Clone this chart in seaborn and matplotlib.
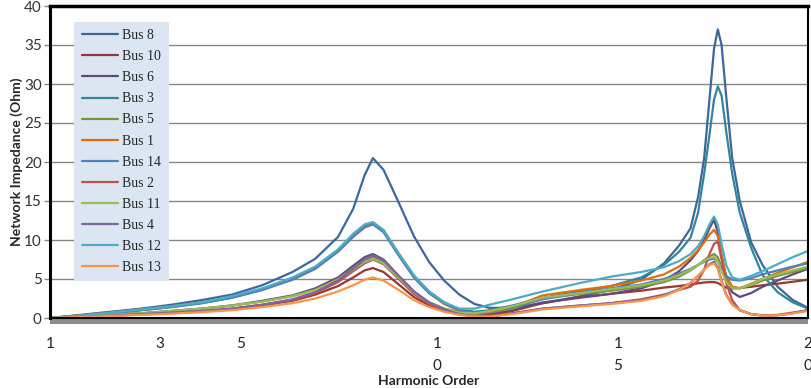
import seaborn as sns
import pandas as pd
import matplotlib.pyplot as plt
from matplotlib.patches import Rectangle

# sample positions along the (category) harmonic axis, 0 = order 1, 100 = order 20
pos = [0, 4, 8, 12, 16, 20, 24, 28, 32, 35, 38, 40, 41.5, 42.6, 44, 46, 48, 50, 52, 54,
       56, 58, 61, 65, 70, 74, 78, 81, 83, 84.5, 85.5, 86.3, 87, 87.6, 88.1, 88.6, 89.2, 90, 91, 92.5,
       94, 96, 98, 100]

bus8 = [0, 0.4, 0.8, 1.2, 1.7, 2.3, 3.0, 4.2, 5.9, 7.6, 10.4, 14.0, 18.3, 20.5, 19.0, 14.8, 10.5, 7.2, 4.8, 3.0,
        1.8, 1.3, 1.3, 1.9, 2.8, 3.6, 4.9, 7.0, 9.3, 11.5, 15.5, 20.5, 28.0, 34.5, 37.0, 35.0, 28.5, 20.5, 15.0, 9.7,
        6.8, 4.0, 2.3, 1.3]
bus10 = [0, 0.15, 0.3, 0.45, 0.65, 0.85, 1.1, 1.6, 2.2, 3.0, 4.1, 5.2, 6.1, 6.4, 5.9, 4.3, 2.7, 1.6, 0.9, 0.5,
         0.3, 0.4, 0.9, 1.9, 2.7, 3.1, 3.5, 3.9, 4.1, 4.3, 4.45, 4.55, 4.6, 4.6, 4.5, 4.2, 3.9, 3.8, 3.85, 4.0,
         4.2, 4.4, 4.65, 4.9]
bus6 = [0, 0.2, 0.4, 0.6, 0.9, 1.2, 1.6, 2.2, 2.9, 3.8, 5.2, 6.7, 7.8, 8.2, 7.5, 5.4, 3.4, 2.0, 1.2, 0.7,
        0.5, 0.6, 1.1, 2.0, 2.6, 3.1, 3.8, 4.8, 6.0, 7.4, 8.6, 10.0, 11.5, 12.6, 11.0, 8.0, 5.0, 3.3, 2.7, 3.2,
        4.0, 4.8, 5.6, 6.3]
bus3 = [0, 0.3, 0.6, 1.0, 1.4, 1.9, 2.6, 3.6, 5.0, 6.4, 8.6, 10.6, 11.8, 12.2, 11.2, 8.2, 5.4, 3.4, 2.0, 1.1,
        0.8, 1.0, 1.6, 2.6, 3.4, 4.1, 5.2, 6.8, 8.5, 10.3, 13.5, 18.5, 23.5, 28.0, 29.7, 28.5, 24.0, 18.5, 13.5, 9.0,
        5.5, 3.3, 2.0, 1.2]
bus5 = [0, 0.2, 0.4, 0.6, 0.9, 1.2, 1.6, 2.1, 2.8, 3.6, 5.0, 6.4, 7.4, 7.8, 7.2, 5.3, 3.3, 2.0, 1.2, 0.7,
        0.5, 0.7, 1.2, 2.5, 3.1, 3.5, 4.0, 4.6, 5.3, 6.1, 6.8, 7.4, 7.9, 8.2, 7.8, 6.5, 5.0, 4.0, 3.8, 4.2,
        4.8, 5.4, 5.9, 6.4]
bus1 = [0, 0.35, 0.7, 1.1, 1.5, 2.0, 2.7, 3.7, 5.0, 6.4, 8.6, 10.6, 11.8, 12.1, 11.2, 8.2, 5.3, 3.2, 1.8, 0.9,
        0.6, 0.8, 1.4, 2.9, 3.6, 4.1, 4.8, 5.6, 6.6, 7.7, 8.7, 9.7, 10.7, 11.3, 10.5, 8.0, 5.5, 4.0, 3.8, 4.4,
        5.0, 5.8, 6.5, 7.2]
bus14 = [0, 0.3, 0.6, 1.0, 1.4, 1.9, 2.6, 3.6, 4.9, 6.3, 8.5, 10.4, 11.6, 12.0, 11.0, 8.0, 5.2, 3.2, 1.9, 1.0,
         0.7, 0.9, 1.4, 2.4, 3.2, 3.8, 4.3, 5.0, 5.7, 6.3, 6.8, 7.2, 7.5, 7.6, 7.2, 6.3, 5.4, 4.9, 4.8, 5.1,
         5.6, 6.1, 6.6, 7.0]
bus2 = [0, 0.15, 0.3, 0.5, 0.7, 0.9, 1.2, 1.7, 2.3, 3.2, 4.6, 6.0, 7.0, 7.5, 6.9, 5.0, 3.1, 1.8, 1.0, 0.5,
        0.25, 0.25, 0.6, 1.2, 1.6, 1.9, 2.4, 3.0, 3.6, 4.0, 4.8, 6.2, 8.2, 9.5, 9.8, 7.5, 4.5, 2.3, 1.0, 0.5,
        0.35, 0.4, 0.7, 1.0]
bus11 = [0, 0.2, 0.4, 0.6, 0.9, 1.2, 1.6, 2.1, 2.8, 3.6, 4.9, 6.2, 7.2, 7.6, 7.0, 5.2, 3.3, 2.0, 1.2, 0.7,
         0.6, 0.9, 1.5, 2.6, 3.2, 3.7, 4.2, 4.8, 5.5, 6.2, 6.8, 7.3, 7.7, 7.8, 7.3, 6.0, 4.6, 3.8, 3.8, 4.3,
         5.0, 5.6, 6.1, 6.6]
bus4 = [0, 0.15, 0.3, 0.5, 0.7, 0.9, 1.2, 1.7, 2.4, 3.3, 4.8, 6.3, 7.5, 8.0, 7.4, 5.4, 3.4, 2.0, 1.1, 0.5,
        0.25, 0.2, 0.6, 1.2, 1.6, 1.9, 2.3, 2.9, 3.7, 4.5, 5.4, 6.2, 6.9, 7.2, 6.5, 4.8, 3.0, 1.8, 1.0, 0.5,
        0.3, 0.35, 0.6, 1.0]
bus12 = [0, 0.3, 0.7, 1.1, 1.5, 2.0, 2.8, 3.8, 5.2, 6.6, 8.8, 10.8, 12.0, 12.3, 11.3, 8.3, 5.5, 3.4, 2.0, 1.2,
         1.2, 1.7, 2.4, 3.4, 4.5, 5.3, 5.9, 6.5, 7.3, 8.2, 9.2, 10.5, 12.0, 13.0, 12.0, 9.5, 6.8, 5.2, 4.9, 5.4,
         6.0, 6.9, 7.8, 8.6]
bus13 = [0, 0.12, 0.25, 0.4, 0.55, 0.75, 1.0, 1.4, 1.9, 2.5, 3.4, 4.2, 4.9, 5.2, 4.8, 3.6, 2.3, 1.4, 0.8, 0.4,
         0.2, 0.2, 0.5, 1.1, 1.5, 1.8, 2.2, 2.8, 3.6, 4.5, 5.4, 6.2, 6.8, 7.0, 6.3, 4.6, 2.9, 1.7, 1.0, 0.5,
         0.3, 0.35, 0.6, 0.9]

names = ['Bus 8', 'Bus 10', 'Bus 6', 'Bus 3', 'Bus 5', 'Bus 1',
         'Bus 14', 'Bus 2', 'Bus 11', 'Bus 4', 'Bus 12', 'Bus 13']
series = [bus8, bus10, bus6, bus3, bus5, bus1, bus14, bus2, bus11, bus4, bus12, bus13]
colors = ['#3B679E', '#953735', '#604A7B', '#31859C', '#77933C', '#E46C0A',
          '#4F81BD', '#C0504D', '#9BBB59', '#8064A2', '#4BACC6', '#F79646']

tick_pos = [0, 14.5, 25.1, 51.1, 74.9, 100]
tick_lbl = ['1', '3', '5', '1\n0', '1\n5', '2\n0']

df = pd.DataFrame({
    'pos': pos * len(names),
    'imp': [v for s in series for v in s],
    'bus': [n for n in names for _ in pos],
})

sns.set_style('white')
plt.rcParams['font.family'] = ['Lato', 'DejaVu Sans']

fig = plt.figure(figsize=(8.11, 3.88), dpi=100)
ax = fig.add_axes([50 / 811, 70 / 388, 758 / 811, 312 / 388])

sns.lineplot(data=df, x='pos', y='imp', hue='bus', hue_order=names, palette=colors,
             estimator=None, sort=False, linewidth=1.6, ax=ax)

ax.set_xlim(0, 100)
ax.set_ylim(0, 40)
ax.set_yticks(range(0, 41, 5))
ax.yaxis.grid(True, color='#868686', linewidth=1)
ax.set_xticks(tick_pos)
ax.set_xticklabels(tick_lbl, linespacing=1.7)
ax.tick_params(axis='x', length=0, pad=14, labelsize=11, labelcolor='#222222')
ax.tick_params(axis='y', length=4, width=1, color='#868686', direction='out', pad=2,
               labelsize=11, labelcolor='#333333')
ax.tick_params(left=True)

for side in ['left', 'top', 'right', 'bottom']:
    ax.spines[side].set_color('black')
ax.spines['left'].set_linewidth(2.2)
ax.spines['top'].set_linewidth(2.5)
ax.spines['right'].set_linewidth(1.5)
ax.spines['bottom'].set_linewidth(1.5)

# grey shadow under the category axis
ax.add_patch(Rectangle((0, -0.02), 1.0, 0.02, transform=ax.transAxes,
                       facecolor='#8C8C8C', edgecolor='none', clip_on=False, zorder=1))

ax.set_xlabel('Harmonic Order', fontsize=10, fontweight='bold', labelpad=1)
ax.set_ylabel('Network Impedance (Ohm)', fontsize=10, fontweight='bold', labelpad=1)

handles, labels = ax.get_legend_handles_labels()
leg = ax.legend(handles, labels, loc='upper left', bbox_to_anchor=(0.032, 0.95),
                borderaxespad=0, frameon=True, fancybox=False,
                facecolor='#DCE6F2', edgecolor='#DCE6F2', framealpha=1,
                prop={'family': 'Liberation Serif', 'size': 10},
                handlelength=2.6, handletextpad=0.3, labelspacing=0.58, borderpad=0.55)
leg.get_frame().set_linewidth(0)

fig.savefig('out.png', dpi=100)
